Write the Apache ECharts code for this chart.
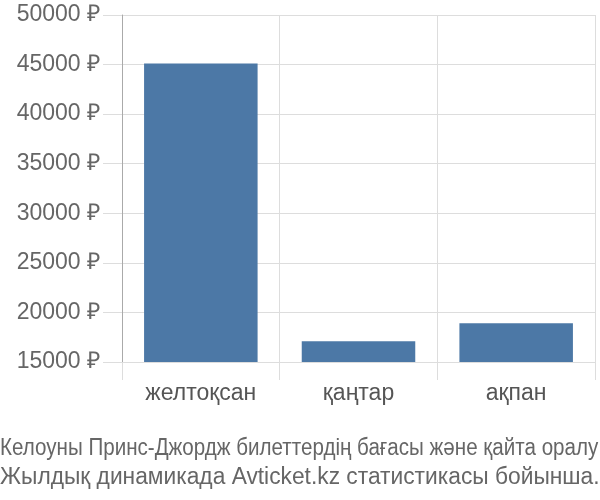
<!DOCTYPE html>
<html>
<head>
<meta charset="utf-8">
<script src="https://cdn.jsdelivr.net/npm/echarts@6/dist/echarts.min.js"></script>
<style>
  html, body { margin: 0; padding: 0; background: #fff; }
  #chart { width: 600px; height: 500px; }
</style>
</head>
<body>
<div id="chart"></div>
<script>
// months and average ticket prices (RUB)
var months = ['желтоқсан', 'қаңтар', 'ақпан'];
var prices = [45100, 17100, 18900];
var footerLines = [
	'Келоуны Принс-Джордж билеттердің бағасы және қайта оралу',
	'Жылдық динамикада Avticket.kz статистикасы бойынша.'
];

var dom = document.getElementById('chart');
var myChart = echarts.init(dom);
var font = '"Liberation Sans", Arial, sans-serif';

// the footer lines are each stretched to the full width in the original
var footerScale = [0.895, 0.99];
var footer = [];
for (var i = 0; i < footerLines.length; i++) {
	footer.push({
		type: 'text',
		left: 0,
		top: 437 + i * 29,
		scaleX: footerScale[i],
		style: {
			text: footerLines[i],
			fill: '#666666',
			font: '23px ' + font
		}
	});
}

var option = {
	animation: false,
	grid: {
		left: 122,
		right: 5,
		top: 15,
		bottom: 138
	},
	xAxis: {
		type: 'category',
		data: months,
		boundaryGap: true,
		axisLine: { show: true, lineStyle: { color: '#dddddd', width: 1 } },
		axisTick: { show: true, length: 18, lineStyle: { color: '#dddddd' } },
		splitLine: { show: true, lineStyle: { color: '#dddddd', width: 1 } },
		axisLabel: {
			color: '#555555',
			fontFamily: font,
			fontSize: 23,
			margin: 20
		}
	},
	yAxis: {
		type: 'value',
		min: 15000,
		max: 50000,
		interval: 5000,
		axisLine: { show: true, lineStyle: { color: '#aaaaaa', width: 1 } },
		axisTick: { show: true, length: 19, lineStyle: { color: '#dddddd' } },
		splitLine: { show: true, lineStyle: { color: '#dddddd', width: 1 } },
		axisLabel: {
			color: '#666666',
			fontFamily: font,
			fontSize: 23,
			margin: 22,
			formatter: function (v) { return v + ' ₽'; }
		}
	},
	series: [{
		type: 'bar',
		data: prices,
		barWidth: '72%',
		itemStyle: { color: '#4c78a6' }
	}],
	graphic: footer
};

myChart.setOption(option, true);
</script>
</body>
</html>
